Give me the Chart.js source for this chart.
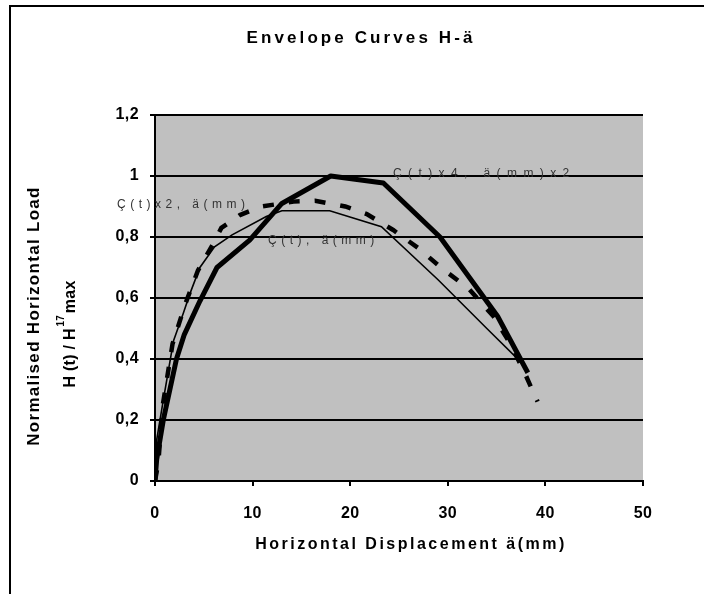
<!DOCTYPE html>
<html>
<head>
<meta charset="utf-8">
<script src="https://cdn.jsdelivr.net/npm/chart.js@4/dist/chart.umd.min.js"></script>
<style>
html,body{margin:0;padding:0;background:#fff;}
#wrap{width:704px;height:594px;position:relative;}
</style>
</head>
<body>
<div id="wrap"><canvas id="c" width="704" height="594"></canvas></div>
<script>
// ---- data ----
const thinX  = [0, 0.17, 0.85, 1.9, 2.9, 3.6, 4.6, 6.1, 7.9, 11.4, 13.0, 17.9, 23.2, 29.0, 34.0, 37.8];
const thinY  = [0, 0.134, 0.265, 0.46, 0.55, 0.616, 0.70, 0.768, 0.807, 0.867, 0.886, 0.886, 0.834, 0.66, 0.50, 0.38];

const dashX  = [0, 0.34, 0.8, 1.8, 3.1, 4.4, 6.0, 6.8, 8.7, 10.9, 14.2, 16.4, 19.5, 21.7, 24.4, 27.0, 29.4, 32.1, 34.7, 36.4, 37.8, 39.2];
const dashY  = [0, 0.06, 0.25, 0.45, 0.58, 0.69, 0.78, 0.83, 0.872, 0.90, 0.916, 0.919, 0.90, 0.875, 0.823, 0.763, 0.697, 0.632, 0.539, 0.45, 0.36, 0.26];

const thickX = [0, 0.17, 0.85, 2.2, 3.0, 4.6, 6.35, 9.7, 13.0, 18.0, 23.4, 29.2, 35.1, 38.2];
const thickY = [0, 0.07, 0.20, 0.40, 0.48, 0.59, 0.70, 0.79, 0.91, 1.0, 0.977, 0.80, 0.54, 0.355];

const seriesNames = ['Ç(t), ä(mm)', 'Ç(t)x2, ä(mm)', 'Ç(t)x4, ä(mm)x2'];
const xTickValues = [0, 10, 20, 30, 40, 50];
const yTickLabels = ['0', '0,2', '0,4', '0,6', '0,8', '1', '1,2'];
const chartTitle = 'Envelope Curves H-ä';
const xTitle = 'Horizontal Displacement ä(mm)';
const yTitle1 = 'Normalised Horizontal Load';

function pts(xs, ys){ return xs.map((x,i)=>({x:x, y:ys[i]})); }

const FONT = '"Liberation Sans", Arial, sans-serif';
const TICK_SPACING = '0.4px';

const decor = {
  id:'decor',
  beforeLayout(chart){ chart.ctx.letterSpacing = TICK_SPACING; },
  beforeDraw(chart){
    const ctx = chart.ctx, a = chart.chartArea;
    ctx.letterSpacing = TICK_SPACING;
    ctx.save();
    ctx.fillStyle = '#fff';
    ctx.fillRect(0,0,chart.width,chart.height);
    ctx.fillStyle = '#c0c0c0';
    ctx.fillRect(a.left, a.top, a.right-a.left, a.bottom-a.top);
    // outer frame
    ctx.strokeStyle = '#000';
    ctx.lineWidth = 2;
    ctx.beginPath();
    ctx.moveTo(10, 600); ctx.lineTo(10, 6); ctx.lineTo(710, 6);
    ctx.stroke();
    ctx.restore();
  },
  afterDraw(chart){
    const ctx = chart.ctx;
    ctx.save();
    ctx.fillStyle = '#000';
    ctx.textBaseline = 'middle';
    ctx.textAlign = 'center';
    // title
    ctx.font = 'bold 17px ' + FONT;
    ctx.letterSpacing = '3.1px';
    ctx.fillText(chartTitle, 361, 38);
    // x title
    ctx.font = 'bold 16px ' + FONT;
    ctx.letterSpacing = '2.5px';
    ctx.fillText(xTitle, 411, 545);
    // y title (rotated)
    ctx.save();
    ctx.translate(34, 316);
    ctx.rotate(-Math.PI/2);
    ctx.font = 'bold 17px ' + FONT;
    ctx.letterSpacing = '1.3px';
    ctx.fillText(yTitle1, 0, 0);
    ctx.restore();
    ctx.save();
    ctx.translate(69, 334);
    ctx.rotate(-Math.PI/2);
    ctx.textAlign = 'left';
    ctx.textBaseline = 'alphabetic';
    ctx.font = 'bold 16px ' + FONT;
    ctx.letterSpacing = '0.3px';
    const p1 = 'H (t) / H', p2 = '17', p3 = 'max';
    const w1 = ctx.measureText(p1).width;
    ctx.font = 'bold 10px ' + FONT;
    const w2 = ctx.measureText(p2).width;
    ctx.font = 'bold 16px ' + FONT;
    const w3 = ctx.measureText(p3).width;
    let sx = -(w1+w2+w3+3)/2;
    ctx.fillText(p1, sx, 6); sx += w1 + 1.5;
    ctx.font = 'bold 10px ' + FONT;
    ctx.fillText(p2, sx, -5); sx += w2 + 1.5;
    ctx.font = 'bold 16px ' + FONT;
    ctx.fillText(p3, sx, 6);
    ctx.restore();
    // series labels
    ctx.font = '12px ' + FONT;
    ctx.fillStyle = '#333';
    ctx.textAlign = 'left';
    ctx.letterSpacing = '6.4px';
    ctx.fillText(seriesNames[2], 393, 174);
    ctx.letterSpacing = '4.5px';
    ctx.fillText(seriesNames[1], 117, 205);
    ctx.fillText(seriesNames[0], 268, 241);
    ctx.restore();
    ctx.letterSpacing = TICK_SPACING;
  }
};

new Chart(document.getElementById('c'), {
  type: 'line',
  data: {
    datasets: [
      { label: seriesNames[0], data: pts(thinX, thinY), borderColor:'#000', borderWidth:1.6, pointRadius:0, tension:0, fill:false },
      { label: seriesNames[1], data: pts(dashX, dashY), borderColor:'#000', borderWidth:4.5, borderDash:[11,15], borderCapStyle:'butt', pointRadius:0, tension:0, fill:false },
      { label: seriesNames[2], data: pts(thickX, thickY), borderColor:'#000', borderWidth:5, pointRadius:0, tension:0, fill:false, borderJoinStyle:'round' }
    ]
  },
  options: {
    responsive: false,
    animation: false,
    devicePixelRatio: 1,
    layout: { padding: { left:0, top:115, right:61, bottom:0 } },
    plugins: { legend:{display:false}, title:{display:false}, tooltip:{enabled:false} },
    scales: {
      x: {
        type:'linear', min:0, max:50,
        afterBuildTicks: s => { s.ticks = xTickValues.map(v=>({value:v})); },
        afterFit: s => { s.height = 113; },
        grid: { drawOnChartArea:false, drawTicks:true, tickLength:5, color:'#000', lineWidth:2 },
        border: { display:true, color:'#000', width:2 },
        ticks: { color:'#000', font:{ family:FONT, size:16, weight:'bold' }, padding:18, maxRotation:0, autoSkip:false }
      },
      y: {
        type:'linear', min:0, max:1.2,
        afterBuildTicks: s => { s.ticks = yTickLabels.map((t,i)=>({value: i*0.2})); },
        afterFit: s => { s.width = 155; },
        grid: { drawOnChartArea:true, drawTicks:true, tickLength:5, color:'#000', lineWidth:2 },
        border: { display:true, color:'#000', width:2 },
        ticks: { color:'#000', font:{ family:FONT, size:16, weight:'bold' }, padding:11, autoSkip:false,
                 callback: (v, i) => yTickLabels[i] }
      }
    }
  },
  plugins: [decor]
});
</script>
</body>
</html>
